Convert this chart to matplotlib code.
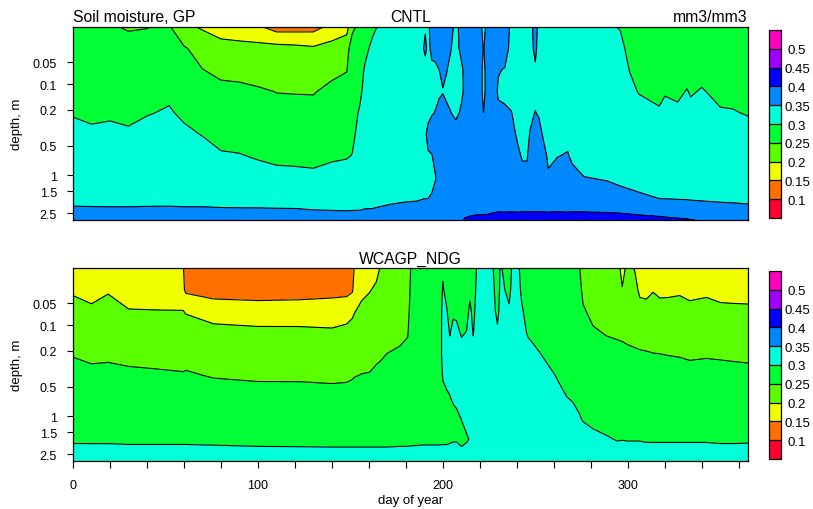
import numpy as np
import matplotlib
matplotlib.use('Agg')
import matplotlib.pyplot as plt
from matplotlib.colors import ListedColormap, BoundaryNorm
from matplotlib.ticker import NullLocator

plt.rcParams['font.family'] = ['Liberation Sans', 'DejaVu Sans']

# soil layer node depths (m), top layer first
soil_depth = [0.0071, 0.0279, 0.0623, 0.1189, 0.2122, 0.3661, 0.6198, 1.0380, 1.7276, 2.8646]
depth_ticks = [0.05, 0.1, 0.2, 0.5, 1, 1.5, 2.5]
depth_labels = ['0.05', '0.1', '0.2', '0.5', '1', '1.5', '2.5']

levels = [0.1, 0.15, 0.2, 0.25, 0.3, 0.35, 0.4, 0.45, 0.5]
level_labels = ['0.1', '0.15', '0.2', '0.25', '0.3', '0.35', '0.4', '0.45', '0.5']
fill_colors = ['#ff0030', '#ff7000', '#f0ff00', '#5aff00', '#00ff35',
               '#00ffd8', '#0088ff', '#0000ff', '#a000ff', '#ff00c0']

# CNTL: soil moisture (mm3/mm3), one row per day, layers top -> bottom
days_cntl = [0, 10, 20, 30, 40, 52, 60, 70, 80, 90, 100, 110, 120, 130, 140, 148, 151,
             155, 158, 162, 166, 172, 180, 186, 188, 190.5, 192, 194, 196, 198, 200, 202,
             204, 207, 210, 212, 216, 220, 222, 224, 228, 230, 233.5, 237, 240.5, 243,
             245.5, 247, 250, 252, 254, 257, 262, 267.5, 270, 276, 289, 296, 301, 306,
             317, 320, 327, 332, 334, 340, 350, 357, 365]
sm_cntl = [
    [0.270, 0.275, 0.280, 0.287, 0.297, 0.312, 0.320, 0.328, 0.338, 0.372],
    [0.262, 0.268, 0.275, 0.283, 0.292, 0.307, 0.318, 0.326, 0.337, 0.372],
    [0.252, 0.262, 0.272, 0.281, 0.292, 0.313, 0.320, 0.327, 0.337, 0.371],
    [0.248, 0.258, 0.270, 0.280, 0.290, 0.306, 0.317, 0.326, 0.337, 0.371],
    [0.249, 0.262, 0.275, 0.286, 0.297, 0.317, 0.323, 0.329, 0.338, 0.371],
    [0.255, 0.265, 0.278, 0.290, 0.305, 0.318, 0.324, 0.330, 0.339, 0.370],
    [0.210, 0.255, 0.270, 0.280, 0.291, 0.310, 0.318, 0.326, 0.337, 0.371],
    [0.195, 0.230, 0.251, 0.262, 0.275, 0.298, 0.320, 0.327, 0.337, 0.371],
    [0.175, 0.220, 0.240, 0.261, 0.275, 0.287, 0.304, 0.318, 0.335, 0.371],
    [0.165, 0.219, 0.238, 0.259, 0.272, 0.284, 0.302, 0.316, 0.334, 0.371],
    [0.158, 0.216, 0.232, 0.255, 0.268, 0.280, 0.296, 0.316, 0.333, 0.372],
    [0.130, 0.217, 0.234, 0.249, 0.262, 0.276, 0.292, 0.310, 0.332, 0.372],
    [0.131, 0.213, 0.232, 0.248, 0.263, 0.276, 0.291, 0.309, 0.331, 0.372],
    [0.133, 0.207, 0.228, 0.247, 0.265, 0.277, 0.290, 0.307, 0.330, 0.368],
    [0.165, 0.219, 0.238, 0.262, 0.275, 0.284, 0.295, 0.312, 0.329, 0.367],
    [0.180, 0.235, 0.248, 0.268, 0.280, 0.288, 0.297, 0.316, 0.329, 0.366],
    [0.240, 0.272, 0.278, 0.283, 0.289, 0.292, 0.301, 0.318, 0.330, 0.366],
    [0.262, 0.280, 0.288, 0.293, 0.303, 0.312, 0.318, 0.324, 0.332, 0.365],
    [0.275, 0.292, 0.304, 0.310, 0.316, 0.321, 0.325, 0.329, 0.336, 0.365],
    [0.293, 0.308, 0.318, 0.322, 0.325, 0.327, 0.330, 0.332, 0.338, 0.364],
    [0.305, 0.318, 0.326, 0.330, 0.333, 0.335, 0.337, 0.338, 0.341, 0.365],
    [0.310, 0.322, 0.330, 0.334, 0.336, 0.338, 0.340, 0.341, 0.344, 0.367],
    [0.318, 0.328, 0.332, 0.335, 0.337, 0.340, 0.342, 0.344, 0.347, 0.366],
    [0.330, 0.338, 0.336, 0.338, 0.340, 0.343, 0.345, 0.346, 0.348, 0.365],
    [0.334, 0.340, 0.338, 0.339, 0.341, 0.344, 0.346, 0.347, 0.349, 0.366],
    [0.347, 0.356, 0.339, 0.340, 0.342, 0.347, 0.346, 0.347, 0.350, 0.368],
    [0.345, 0.343, 0.341, 0.342, 0.344, 0.356, 0.348, 0.347, 0.350, 0.368],
    [0.360, 0.356, 0.345, 0.342, 0.348, 0.362, 0.349, 0.347, 0.351, 0.370],
    [0.362, 0.357, 0.346, 0.344, 0.351, 0.362, 0.358, 0.349, 0.356, 0.372],
    [0.365, 0.360, 0.350, 0.347, 0.356, 0.366, 0.364, 0.360, 0.362, 0.375],
    [0.368, 0.362, 0.355, 0.349, 0.358, 0.368, 0.370, 0.366, 0.365, 0.378],
    [0.370, 0.362, 0.351, 0.346, 0.354, 0.366, 0.372, 0.370, 0.368, 0.380],
    [0.368, 0.352, 0.345, 0.343, 0.351, 0.364, 0.372, 0.374, 0.372, 0.385],
    [0.335, 0.342, 0.340, 0.341, 0.345, 0.360, 0.372, 0.375, 0.374, 0.392],
    [0.368, 0.356, 0.345, 0.346, 0.353, 0.366, 0.374, 0.378, 0.378, 0.398],
    [0.370, 0.365, 0.357, 0.354, 0.360, 0.370, 0.376, 0.380, 0.383, 0.402],
    [0.372, 0.370, 0.366, 0.364, 0.366, 0.372, 0.378, 0.382, 0.385, 0.404],
    [0.370, 0.367, 0.364, 0.362, 0.364, 0.370, 0.376, 0.381, 0.385, 0.405],
    [0.330, 0.348, 0.342, 0.343, 0.350, 0.365, 0.374, 0.380, 0.385, 0.405],
    [0.370, 0.366, 0.362, 0.360, 0.362, 0.368, 0.375, 0.380, 0.386, 0.405],
    [0.370, 0.362, 0.356, 0.355, 0.357, 0.363, 0.370, 0.378, 0.385, 0.408],
    [0.365, 0.360, 0.351, 0.348, 0.353, 0.360, 0.366, 0.372, 0.380, 0.412],
    [0.362, 0.358, 0.349, 0.347, 0.352, 0.358, 0.364, 0.370, 0.378, 0.413],
    [0.345, 0.344, 0.343, 0.345, 0.3505, 0.356, 0.362, 0.368, 0.377, 0.414],
    [0.335, 0.337, 0.340, 0.342, 0.345, 0.347, 0.3535, 0.364, 0.376, 0.414],
    [0.335, 0.336, 0.338, 0.340, 0.342, 0.345, 0.348, 0.356, 0.372, 0.417],
    [0.336, 0.337, 0.339, 0.341, 0.343, 0.345, 0.348, 0.356, 0.372, 0.417],
    [0.340, 0.342, 0.344, 0.345, 0.347, 0.3505, 0.358, 0.364, 0.374, 0.416],
    [0.360, 0.355, 0.347, 0.346, 0.3505, 0.356, 0.360, 0.364, 0.374, 0.416],
    [0.340, 0.341, 0.342, 0.344, 0.348, 0.356, 0.360, 0.364, 0.372, 0.417],
    [0.338, 0.340, 0.342, 0.344, 0.346, 0.349, 0.357, 0.362, 0.370, 0.418],
    [0.332, 0.334, 0.337, 0.340, 0.342, 0.345, 0.347, 0.352, 0.366, 0.420],
    [0.328, 0.332, 0.336, 0.339, 0.342, 0.345, 0.3495, 0.357, 0.367, 0.420],
    [0.325, 0.330, 0.335, 0.338, 0.341, 0.346, 0.351, 0.358, 0.366, 0.420],
    [0.322, 0.328, 0.333, 0.336, 0.339, 0.343, 0.347, 0.3547, 0.364, 0.422],
    [0.318, 0.326, 0.331, 0.334, 0.337, 0.340, 0.344, 0.3503, 0.362, 0.423],
    [0.305, 0.315, 0.322, 0.327, 0.331, 0.335, 0.340, 0.348, 0.359, 0.422],
    [0.298, 0.309, 0.316, 0.322, 0.328, 0.333, 0.338, 0.345, 0.357, 0.420],
    [0.280, 0.290, 0.299, 0.309, 0.318, 0.325, 0.332, 0.340, 0.358, 0.416],
    [0.272, 0.280, 0.288, 0.298, 0.313, 0.322, 0.330, 0.338, 0.355, 0.414],
    [0.265, 0.272, 0.280, 0.290, 0.3045, 0.315, 0.325, 0.335, 0.350, 0.410],
    [0.266, 0.275, 0.283, 0.296, 0.314, 0.322, 0.328, 0.336, 0.3495, 0.408],
    [0.262, 0.270, 0.279, 0.292, 0.308, 0.318, 0.326, 0.334, 0.348, 0.405],
    [0.265, 0.275, 0.285, 0.302, 0.314, 0.321, 0.327, 0.334, 0.347, 0.403],
    [0.262, 0.272, 0.282, 0.296, 0.311, 0.320, 0.326, 0.334, 0.346, 0.401],
    [0.266, 0.276, 0.287, 0.303, 0.313, 0.320, 0.326, 0.333, 0.344, 0.398],
    [0.260, 0.268, 0.277, 0.289, 0.304, 0.314, 0.322, 0.330, 0.341, 0.394],
    [0.258, 0.266, 0.275, 0.288, 0.3025, 0.312, 0.320, 0.328, 0.340, 0.390],
    [0.260, 0.267, 0.275, 0.285, 0.297, 0.317, 0.322, 0.328, 0.338, 0.385],
]

# WCAGP_NDG
days_ndg = [0, 10, 19, 30, 45, 59.5, 61, 76, 100, 122, 140, 148, 151, 152.5, 156, 160.5,
            164, 166, 169.6, 177, 181, 183, 190, 198.5, 200, 202, 203.8, 205.6, 207.4,
            210.1, 212.8, 214.6, 216.4, 218.6, 222, 226, 229.5, 231.2, 233, 235.8, 237.5,
            241, 242.5, 246, 249, 256, 259.6, 264.2, 266.8, 270.4, 274, 275.8, 281.2,
            288.4, 294, 297, 300, 303.8, 306.5, 310, 313.7, 317.3, 322, 328, 333.5,
            342.5, 350, 357, 365]
sm_ndg = [
    [0.170, 0.192, 0.220, 0.236, 0.247, 0.266, 0.274, 0.282, 0.296, 0.318],
    [0.168, 0.186, 0.207, 0.228, 0.243, 0.258, 0.270, 0.280, 0.296, 0.317],
    [0.172, 0.195, 0.218, 0.232, 0.244, 0.259, 0.270, 0.280, 0.296, 0.317],
    [0.160, 0.180, 0.202, 0.222, 0.240, 0.257, 0.268, 0.279, 0.295, 0.317],
    [0.158, 0.178, 0.201, 0.220, 0.238, 0.255, 0.267, 0.278, 0.295, 0.317],
    [0.154, 0.160, 0.201, 0.218, 0.235, 0.253, 0.266, 0.277, 0.295, 0.317],
    [0.130, 0.140, 0.195, 0.228, 0.240, 0.253, 0.266, 0.277, 0.295, 0.317],
    [0.125, 0.138, 0.165, 0.223, 0.236, 0.248, 0.263, 0.276, 0.294, 0.317],
    [0.122, 0.136, 0.163, 0.214, 0.232, 0.245, 0.262, 0.275, 0.293, 0.315],
    [0.120, 0.136, 0.165, 0.213, 0.231, 0.244, 0.264, 0.276, 0.293, 0.314],
    [0.122, 0.138, 0.168, 0.208, 0.228, 0.243, 0.261, 0.275, 0.293, 0.313],
    [0.125, 0.140, 0.170, 0.219, 0.232, 0.243, 0.264, 0.276, 0.293, 0.313],
    [0.140, 0.145, 0.180, 0.236, 0.243, 0.247, 0.262, 0.276, 0.293, 0.313],
    [0.155, 0.165, 0.198, 0.240, 0.246, 0.249, 0.262, 0.277, 0.293, 0.313],
    [0.170, 0.185, 0.213, 0.232, 0.243, 0.2505, 0.263, 0.277, 0.293, 0.313],
    [0.178, 0.197, 0.220, 0.235, 0.244, 0.251, 0.264, 0.277, 0.293, 0.313],
    [0.185, 0.208, 0.225, 0.237, 0.245, 0.255, 0.266, 0.278, 0.293, 0.313],
    [0.201, 0.213, 0.228, 0.239, 0.246, 0.257, 0.267, 0.278, 0.293, 0.313],
    [0.208, 0.220, 0.232, 0.242, 0.250, 0.260, 0.268, 0.279, 0.293, 0.313],
    [0.215, 0.226, 0.236, 0.245, 0.253, 0.262, 0.270, 0.280, 0.294, 0.313],
    [0.220, 0.230, 0.240, 0.248, 0.257, 0.264, 0.272, 0.281, 0.294, 0.313],
    [0.258, 0.262, 0.265, 0.267, 0.270, 0.273, 0.277, 0.284, 0.295, 0.312],
    [0.265, 0.268, 0.270, 0.272, 0.275, 0.278, 0.282, 0.287, 0.296, 0.312],
    [0.280, 0.283, 0.285, 0.287, 0.289, 0.290, 0.292, 0.294, 0.296, 0.312],
    [0.295, 0.303, 0.310, 0.312, 0.310, 0.302, 0.294, 0.294, 0.296, 0.313],
    [0.285, 0.290, 0.303, 0.310, 0.310, 0.306, 0.297, 0.293, 0.296, 0.313],
    [0.280, 0.283, 0.287, 0.298, 0.310, 0.307, 0.2995, 0.294, 0.297, 0.314],
    [0.282, 0.286, 0.294, 0.310, 0.312, 0.310, 0.306, 0.289, 0.298, 0.315],
    [0.280, 0.285, 0.293, 0.308, 0.312, 0.312, 0.310, 0.292, 0.298, 0.316],
    [0.276, 0.280, 0.285, 0.296, 0.313, 0.314, 0.313, 0.3015, 0.288, 0.325],
    [0.277, 0.282, 0.287, 0.301, 0.314, 0.316, 0.315, 0.310, 0.296, 0.325],
    [0.285, 0.292, 0.307, 0.315, 0.318, 0.318, 0.317, 0.314, 0.302, 0.326],
    [0.280, 0.284, 0.290, 0.298, 0.310, 0.318, 0.320, 0.318, 0.310, 0.327],
    [0.305, 0.310, 0.315, 0.318, 0.320, 0.322, 0.323, 0.322, 0.318, 0.328],
    [0.306, 0.312, 0.316, 0.319, 0.321, 0.323, 0.324, 0.323, 0.319, 0.328],
    [0.308, 0.313, 0.317, 0.320, 0.322, 0.324, 0.325, 0.324, 0.320, 0.329],
    [0.285, 0.288, 0.292, 0.305, 0.318, 0.322, 0.324, 0.323, 0.320, 0.329],
    [0.303, 0.306, 0.310, 0.314, 0.319, 0.322, 0.324, 0.323, 0.320, 0.329],
    [0.296, 0.302, 0.310, 0.316, 0.320, 0.323, 0.325, 0.324, 0.321, 0.329],
    [0.280, 0.290, 0.305, 0.313, 0.319, 0.322, 0.324, 0.324, 0.321, 0.329],
    [0.305, 0.310, 0.315, 0.318, 0.320, 0.322, 0.324, 0.324, 0.321, 0.329],
    [0.303, 0.307, 0.313, 0.317, 0.320, 0.322, 0.324, 0.324, 0.321, 0.329],
    [0.290, 0.296, 0.3035, 0.310, 0.316, 0.320, 0.322, 0.323, 0.321, 0.328],
    [0.280, 0.285, 0.290, 0.297, 0.310, 0.316, 0.320, 0.322, 0.320, 0.328],
    [0.278, 0.283, 0.288, 0.294, 0.305, 0.313, 0.318, 0.320, 0.319, 0.327],
    [0.272, 0.277, 0.282, 0.288, 0.296, 0.306, 0.313, 0.317, 0.317, 0.326],
    [0.270, 0.275, 0.280, 0.286, 0.293, 0.3012, 0.310, 0.315, 0.316, 0.325],
    [0.268, 0.273, 0.278, 0.284, 0.290, 0.296, 0.303, 0.312, 0.315, 0.324],
    [0.266, 0.271, 0.276, 0.282, 0.288, 0.294, 0.3002, 0.310, 0.314, 0.323],
    [0.258, 0.265, 0.272, 0.279, 0.285, 0.291, 0.297, 0.308, 0.313, 0.322],
    [0.250, 0.258, 0.266, 0.274, 0.281, 0.288, 0.294, 0.3013, 0.311, 0.321],
    [0.235, 0.243, 0.2533, 0.265, 0.275, 0.283, 0.290, 0.298, 0.310, 0.320],
    [0.222, 0.232, 0.242, 0.2535, 0.264, 0.273, 0.282, 0.293, 0.307, 0.318],
    [0.218, 0.228, 0.238, 0.248, 0.260, 0.269, 0.278, 0.288, 0.303, 0.315],
    [0.214, 0.223, 0.234, 0.246, 0.258, 0.267, 0.275, 0.284, 0.299, 0.314],
    [0.190, 0.2015, 0.230, 0.244, 0.258, 0.267, 0.275, 0.284, 0.2995, 0.314],
    [0.208, 0.216, 0.228, 0.241, 0.2565, 0.265, 0.274, 0.283, 0.299, 0.313],
    [0.198, 0.212, 0.225, 0.239, 0.2545, 0.264, 0.273, 0.283, 0.299, 0.313],
    [0.180, 0.192, 0.2135, 0.235, 0.2535, 0.263, 0.272, 0.282, 0.299, 0.313],
    [0.178, 0.190, 0.212, 0.233, 0.2525, 0.262, 0.271, 0.281, 0.298, 0.313],
    [0.180, 0.197, 0.220, 0.236, 0.2505, 0.261, 0.270, 0.280, 0.298, 0.313],
    [0.178, 0.190, 0.215, 0.234, 0.250, 0.261, 0.270, 0.280, 0.298, 0.313],
    [0.176, 0.189, 0.2185, 0.236, 0.249, 0.261, 0.270, 0.280, 0.298, 0.313],
    [0.180, 0.194, 0.215, 0.234, 0.248, 0.2605, 0.270, 0.280, 0.298, 0.313],
    [0.175, 0.190, 0.209, 0.230, 0.246, 0.259, 0.269, 0.279, 0.298, 0.313],
    [0.176, 0.190, 0.217, 0.233, 0.247, 0.261, 0.270, 0.280, 0.298, 0.313],
    [0.172, 0.186, 0.209, 0.228, 0.246, 0.260, 0.270, 0.280, 0.297, 0.313],
    [0.170, 0.185, 0.208, 0.227, 0.245, 0.259, 0.270, 0.280, 0.297, 0.313],
    [0.168, 0.184, 0.2075, 0.226, 0.244, 0.258, 0.270, 0.280, 0.297, 0.315],
]

# y axis is spaced by soil layer number, labelled in metres
layer_no = np.arange(1, len(soil_depth) + 1)


def depth_to_layer(d):
    return np.interp(d, soil_depth, layer_no)


def layer_to_depth(i):
    return np.interp(i, layer_no, soil_depth)


cmap = ListedColormap(fill_colors[1:-1])
cmap.set_under(fill_colors[0])
cmap.set_over(fill_colors[-1])

fig = plt.figure(figsize=(8.13, 5.10), dpi=100)
W, H = 813.0, 510.0


def draw_panel(top_px, bar_top_px, days, sm, title, bottom_axis):
    ax = fig.add_axes([73 / W, 1 - (top_px + 193) / H, 675 / W, 193 / H])
    cax = fig.add_axes([769 / W, 1 - (bar_top_px + 188) / H, 12 / W, 188 / H])
    z = np.array(sm).T
    norm = BoundaryNorm(levels, cmap.N)  # one norm per panel
    ax.set_yscale('function', functions=(depth_to_layer, layer_to_depth))
    cf = ax.contourf(days, soil_depth, z, levels=levels, cmap=cmap, norm=norm, extend='both')
    ax.contour(days, soil_depth, z, levels=levels, colors='k', linewidths=0.8)
    ax.set_xlim(0, 365)
    ax.set_ylim(soil_depth[-1], soil_depth[0])
    ax.set_yticks(depth_ticks)
    ax.set_yticklabels(depth_labels)
    ax.yaxis.set_minor_locator(NullLocator())
    ax.tick_params(axis='y', direction='out', length=4.5, width=0.8, labelsize=9, pad=7)
    if bottom_axis:
        xt = list(range(0, 361, 20))
        ax.set_xticks(xt)
        ax.set_xticklabels([str(v) if v % 100 == 0 else '' for v in xt])
        ax.tick_params(axis='x', direction='out', length=5, width=0.8, labelsize=9, pad=8)
    else:
        ax.tick_params(axis='x', bottom=False, labelbottom=False)
    ax.xaxis.set_minor_locator(NullLocator())
    for s in ax.spines.values():
        s.set_linewidth(0.9)
    ax.set_title(title, loc='center', fontsize=11.3, pad=4)

    cb = fig.colorbar(cf, cax=cax, extendrect=True, extendfrac=0.125, drawedges=True)
    cb.set_ticks(levels, labels=level_labels)
    cb.ax.minorticks_off()
    cb.ax.tick_params(length=0, labelsize=9.5, pad=11.5)
    for t in cb.ax.get_yticklabels():
        t.set_horizontalalignment('center')
    cb.outline.set_linewidth(0.9)
    cb.dividers.set_color('k')
    cb.dividers.set_linewidth(0.9)

    fig.text(17 / W, 1 - (top_px + 96.5) / H, 'depth, m', rotation=90,
             ha='center', va='center', fontsize=9.5)
    return ax


ax1 = draw_panel(28, 31, days_cntl, sm_cntl, 'CNTL', False)
ax1.set_title('Soil moisture, GP', loc='left', fontsize=11.3, pad=4)
ax1.set_title('mm3/mm3', loc='right', fontsize=11.3, pad=4)
ax2 = draw_panel(269, 272, days_ndg, sm_ndg, 'WCAGP_NDG', True)
fig.text(410.5 / W, 1 - 501 / H, 'day of year', ha='center', va='center', fontsize=9.5)

fig.savefig('out.png', dpi=100)
